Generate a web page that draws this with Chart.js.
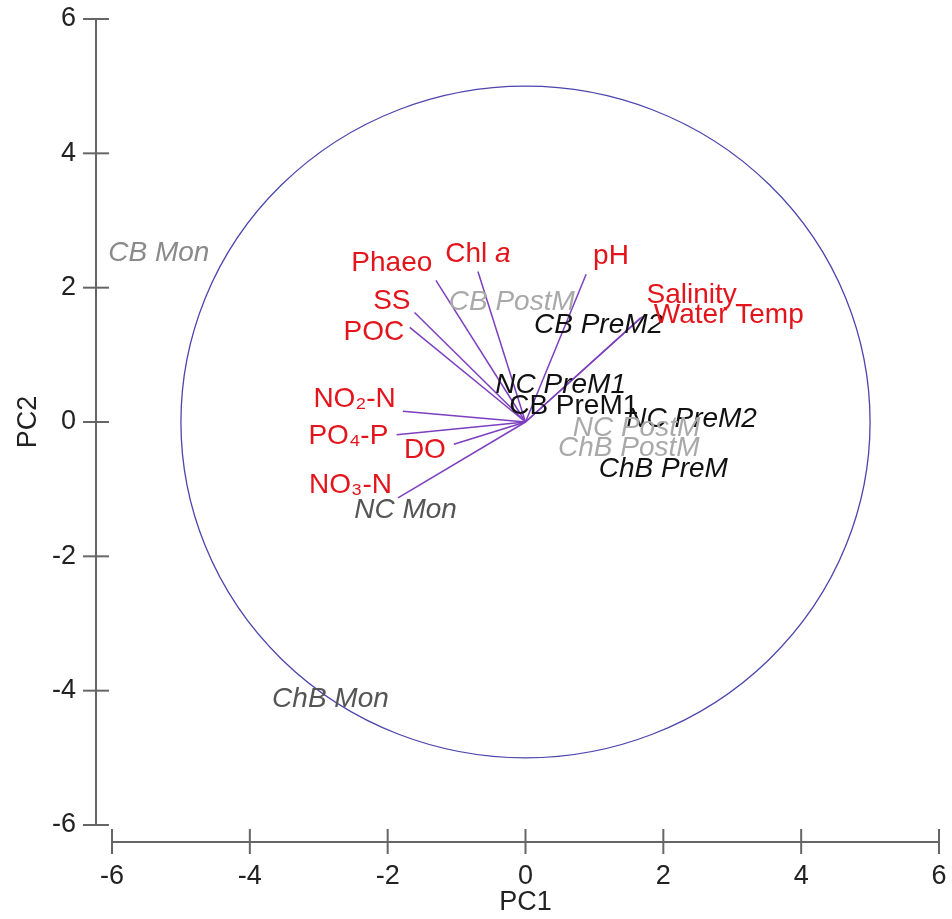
<!DOCTYPE html>
<html>
<head>
<meta charset="utf-8">
<script src="https://cdn.jsdelivr.net/npm/chart.js@4"></script>
<style>
  html, body { margin: 0; padding: 0; background: #fff; }
</style>
</head>
<body>
<canvas id="pcaChart" width="952" height="919"></canvas>
<script>
// variable loadings (arrow tips) and where their names sit
const varNames  = ['NO₂-N', 'PO₄-P', 'DO', 'NO₃-N', 'POC', 'SS', 'Phaeo', 'Chl a', 'pH', 'Salinity', 'Water Temp'];
const varX      = [-1.78, -1.87, -1.04, -1.85, -1.68, -1.61, -1.30, -0.69, 0.88, 1.70, 1.67];
const varY      = [0.16, -0.19, -0.33, -1.13, 1.41, 1.63, 2.11, 2.24, 2.20, 1.57, 1.55];
const varLabelX = [-2.48, -2.57, -1.46, -2.54, -2.20, -1.94, -1.94, -0.69, 1.24, 2.41, 2.95];
const varLabelY = [0.34, -0.21, -0.42, -0.94, 1.34, 1.80, 2.37, 2.50, 2.46, 1.88, 1.59];

// sample scores
const sampleNames = ['CB Mon', 'CB PostM', 'CB PreM2', 'NC PreM1', 'CB PreM1', 'NC PreM2', 'NC PostM', 'ChB PostM', 'ChB PreM', 'NC Mon', 'ChB Mon'];
const sampleX     = [-5.32, -0.20, 1.06, 0.51, 0.70, 2.41, 1.61, 1.50, 2.00, -1.74, -2.83];
const sampleY     = [2.52, 1.79, 1.44, 0.55, 0.24, 0.04, -0.09, -0.39, -0.71, -1.31, -4.12];
const sampleColor = ['#8a8a8a', '#a9a9a9', '#111', '#111', '#111', '#111', '#a9a9a9', '#a9a9a9', '#111', '#555', '#555'];
const sampleItalic = [true, true, true, true, false, true, true, true, true, true, true];

const axisTicks = [-6, -4, -2, 0, 2, 4, 6];
const circleRadius = 5;

const FONT = "'Liberation Sans', Arial, sans-serif";
const LBL = 28;

// arrows: one line from origin to each loading
const arrowSets = varNames.map((n, i) => ({
    label: n,
    data: [{ x: 0, y: 0 }, { x: varX[i], y: varY[i] }],
    showLine: true,
    borderColor: '#7d3fbf',
    borderWidth: 1.5,
    pointRadius: 0
}));

// circle, axes in R base style, and the text labels
const biplotPlugin = {
    id: 'biplot',
    beforeDatasetsDraw(chart) {
        const { ctx, scales: { x, y } } = chart;
        const cx = x.getPixelForValue(0), cy = y.getPixelForValue(0);
        const rx = x.getPixelForValue(circleRadius) - cx;
        const ry = cy - y.getPixelForValue(circleRadius);
        ctx.save();
        ctx.strokeStyle = '#4b45ad';
        ctx.lineWidth = 1.3;
        ctx.beginPath();
        ctx.ellipse(cx, cy, rx, ry, 0, 0, Math.PI * 2);
        ctx.stroke();

        // y axis line, offset left of plot area
        const ax = chart.chartArea.left - 16;
        ctx.strokeStyle = '#333';
        ctx.lineWidth = 1.5;
        ctx.beginPath();
        ctx.moveTo(ax, y.getPixelForValue(6));
        ctx.lineTo(ax, y.getPixelForValue(-6));
        ctx.stroke();
        // x axis line, offset below
        const ay = chart.chartArea.bottom + 17;
        ctx.beginPath();
        ctx.moveTo(x.getPixelForValue(-6), ay);
        ctx.lineTo(x.getPixelForValue(6), ay);
        ctx.stroke();

        ctx.strokeStyle = '#666';
        ctx.lineWidth = 2;
        axisTicks.forEach(t => {
            const py = y.getPixelForValue(t);
            ctx.beginPath();
            ctx.moveTo(ax - 13, py);
            ctx.lineTo(ax + 13, py);
            ctx.stroke();
            const px = x.getPixelForValue(t);
            ctx.beginPath();
            ctx.moveTo(px, ay - 13);
            ctx.lineTo(px, ay + 12);
            ctx.stroke();
        });
        ctx.restore();
    },
    afterDatasetsDraw(chart) {
        const { ctx, scales: { x, y } } = chart;
        ctx.save();
        ctx.textAlign = 'center';
        ctx.textBaseline = 'middle';

        sampleNames.forEach((n, i) => {
            ctx.font = (sampleItalic[i] ? 'italic ' : '') + LBL + 'px ' + FONT;
            ctx.fillStyle = sampleColor[i];
            ctx.fillText(n, x.getPixelForValue(sampleX[i]), y.getPixelForValue(sampleY[i]));
        });

        ctx.fillStyle = '#e3141b';
        varNames.forEach((n, i) => {
            const px = x.getPixelForValue(varLabelX[i]);
            const py = y.getPixelForValue(varLabelY[i]);
            if (n === 'Chl a') {
                // "a" in italics
                ctx.font = LBL + 'px ' + FONT;
                const w1 = ctx.measureText('Chl ').width;
                ctx.font = 'italic ' + LBL + 'px ' + FONT;
                const w2 = ctx.measureText('a').width;
                const left = px - (w1 + w2) / 2;
                ctx.textAlign = 'left';
                ctx.font = LBL + 'px ' + FONT;
                ctx.fillText('Chl ', left, py);
                ctx.font = 'italic ' + LBL + 'px ' + FONT;
                ctx.fillText('a', left + w1, py);
                ctx.textAlign = 'center';
            } else {
                ctx.font = LBL + 'px ' + FONT;
                ctx.fillText(n, px, py);
            }
        });
        ctx.restore();
    }
};

new Chart(document.getElementById('pcaChart'), {
    type: 'scatter',
    data: { datasets: arrowSets },
    options: {
        responsive: false,
        animation: false,
        devicePixelRatio: 1,
        layout: { padding: { left: 0, right: 13, top: 19, bottom: 0 } },
        plugins: { legend: { display: false }, tooltip: { enabled: false } },
        scales: {
            x: {
                type: 'linear',
                min: -6, max: 6,
                afterBuildTicks: s => { s.ticks = axisTicks.map(v => ({ value: v })); },
                afterFit: s => { s.height = 94; s.paddingLeft = 0; s.paddingRight = 0; },
                grid: { display: false, drawTicks: false },
                border: { display: false },
                ticks: { padding: 35, color: '#222', font: { family: FONT, size: 27 } },
                title: { display: true, text: 'PC1', color: '#222', padding: { top: 0, bottom: 0 }, font: { family: FONT, size: 27 } }
            },
            y: {
                type: 'linear',
                min: -6, max: 6,
                afterBuildTicks: s => { s.ticks = axisTicks.map(v => ({ value: v })); },
                afterFit: s => { s.width = 112; s.paddingTop = 0; s.paddingBottom = 0; },
                grid: { display: false, drawTicks: false },
                border: { display: false },
                ticks: { padding: 36, color: '#222', font: { family: FONT, size: 27 } },
                title: { display: true, text: 'PC2', color: '#222', padding: { top: 12, bottom: 0 }, font: { family: FONT, size: 27 } }
            }
        }
    },
    plugins: [biplotPlugin]
});
</script>
</body>
</html>
